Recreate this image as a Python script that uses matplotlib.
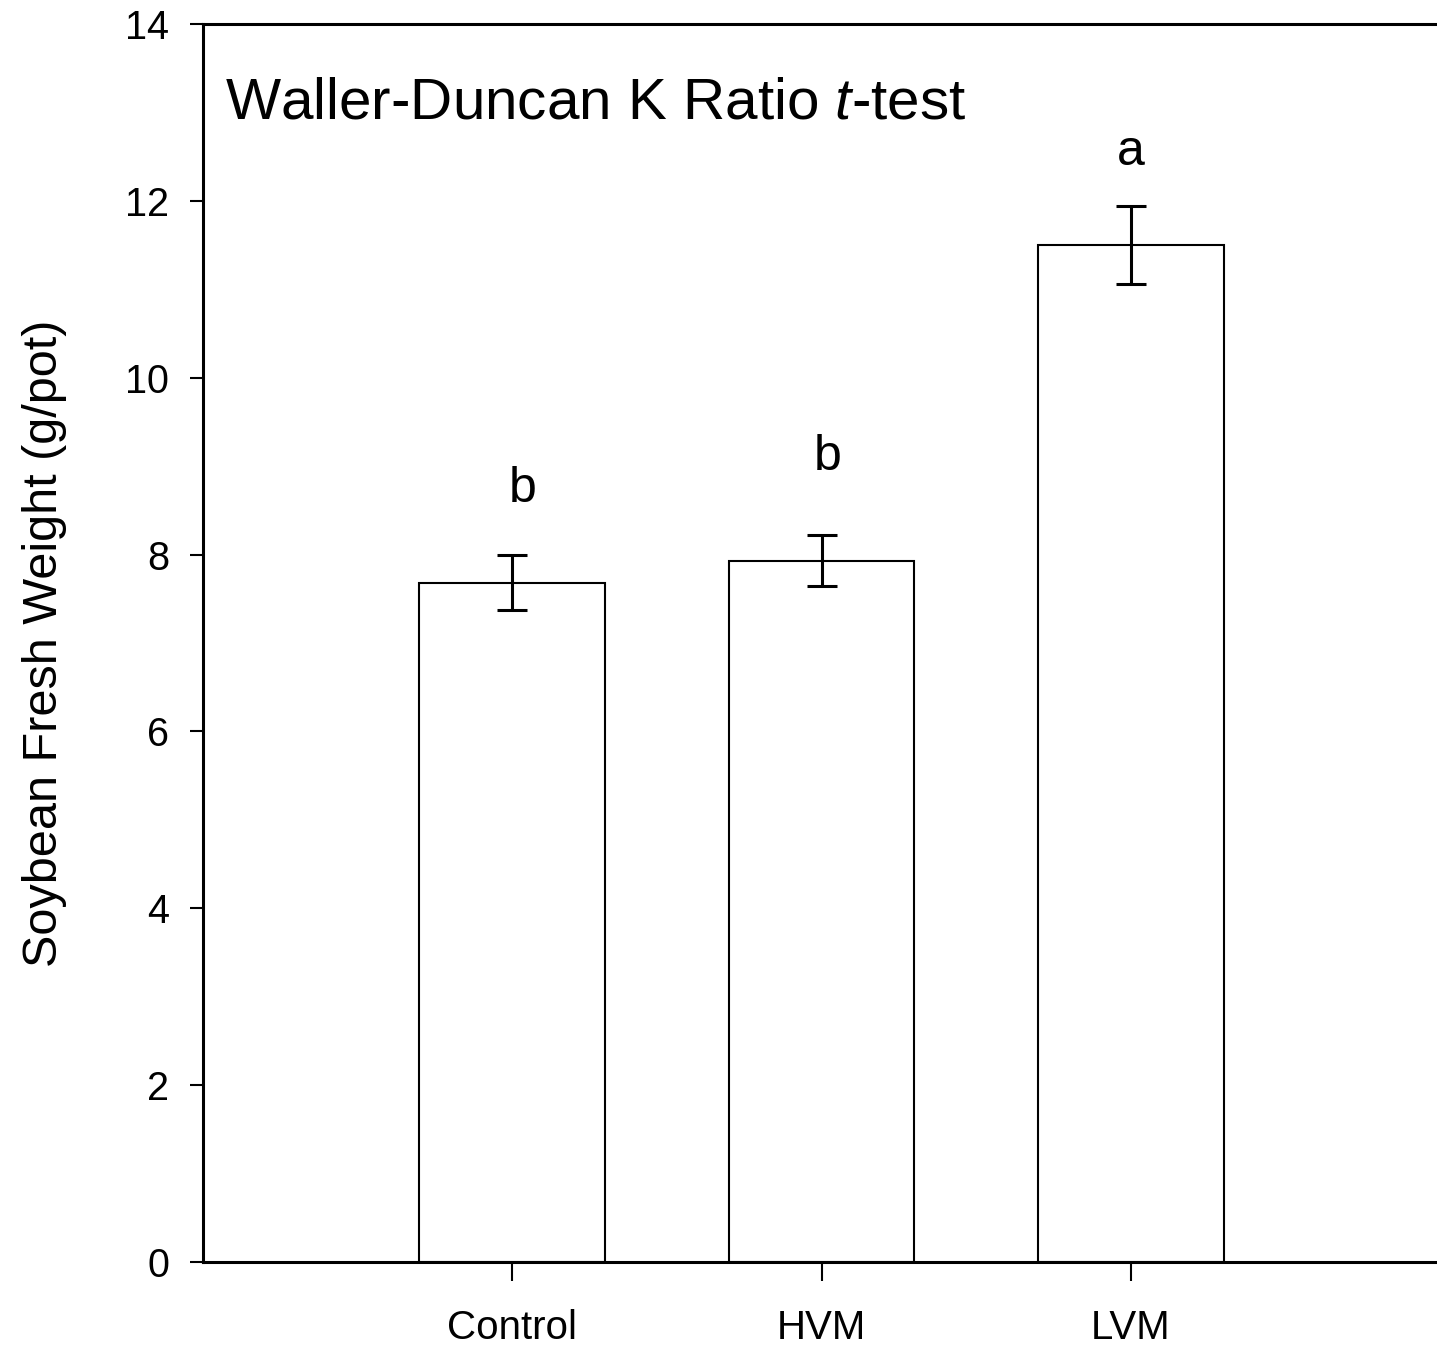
import matplotlib
matplotlib.use("Agg")
import matplotlib.pyplot as plt

plt.rcParams['font.family'] = ['Liberation Sans', 'DejaVu Sans']
plt.rcParams['mathtext.fontset'] = 'custom'
plt.rcParams['mathtext.rm'] = 'Liberation Sans'
plt.rcParams['mathtext.it'] = 'Liberation Sans:italic'

# Treatment means and standard errors
treatments = ["Control", "HVM", "LVM"]
fresh_weight = [7.68, 7.93, 11.50]
std_error = [0.31, 0.29, 0.445]
# Waller-Duncan grouping letters and their heights
letters = ["b", "b", "a"]
letter_y = [8.59, 8.96, 12.41]
y_ticks = [0, 2, 4, 6, 8, 10, 12, 14]

fig = plt.figure(figsize=(14.37, 13.48), dpi=100)
ax = fig.add_axes([203 / 1437, 86 / 1348, 1237 / 1437, 1238 / 1348])

x = list(range(len(treatments)))
ax.bar(x, fresh_weight, width=0.6, color="white", edgecolor="black",
       linewidth=1.5, zorder=2)
ax.errorbar(x, fresh_weight, yerr=std_error, fmt="none", ecolor="black",
            elinewidth=2.2, capsize=11, capthick=2.2, zorder=3)

letter_dx = [0.035, 0.02, 0.0]
for xi, dx, lab, ly in zip(x, letter_dx, letters, letter_y):
    ax.text(xi + dx, ly, lab, ha="center", va="baseline", fontsize=36)

ax.text(0.0178, 0.924, r"Waller-Duncan K Ratio $t$-test", transform=ax.transAxes,
        ha="left", va="baseline", fontsize=42)

ax.set_xlim(-1, 3)
ax.set_ylim(0, 14)
ax.set_xticks(x)
ax.set_xticklabels(treatments, fontsize=29)
ax.set_yticks(y_ticks)
ax.set_yticklabels([str(t) for t in y_ticks], fontsize=28.5)
ax.tick_params(axis="y", direction="out", length=9.5, width=1.5, pad=15)
ax.tick_params(axis="x", direction="out", length=13.5, width=1.5, pad=20)

for side in ["left", "bottom", "top", "right"]:
    ax.spines[side].set_linewidth(2.2)

ax.set_ylabel("Soybean Fresh Weight (g/pot)", fontsize=35, labelpad=42)

fig.savefig("out.png", dpi=100)
